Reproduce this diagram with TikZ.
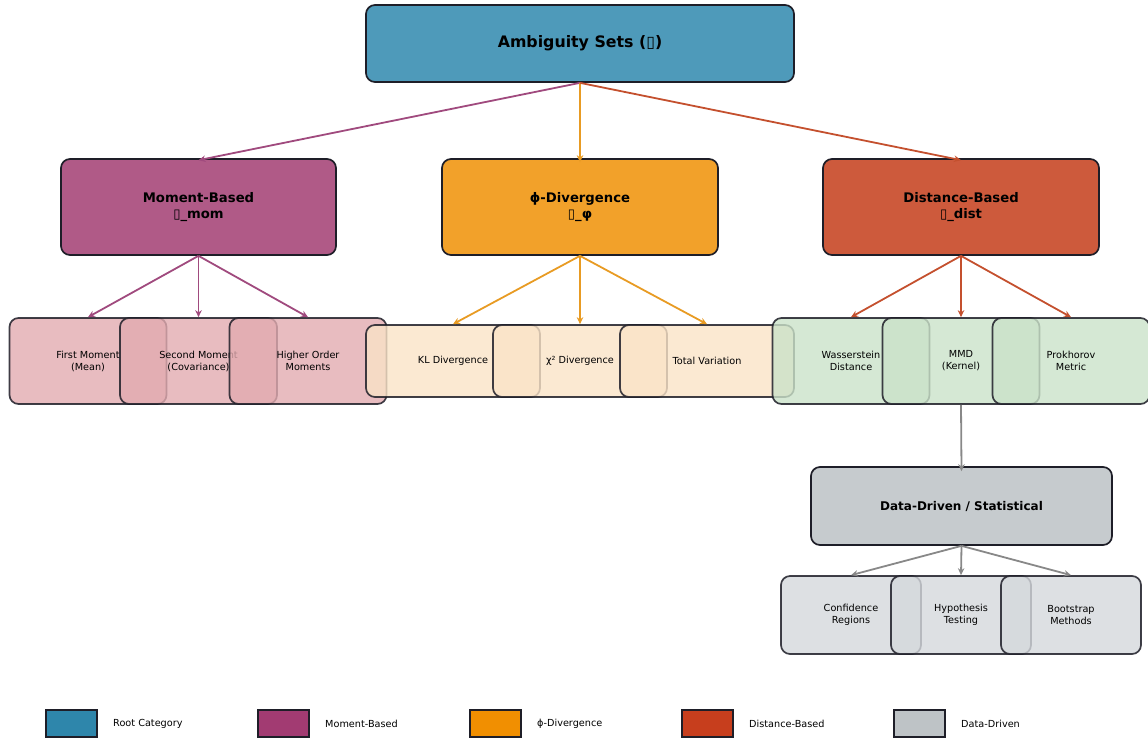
\documentclass[tikz,border=0pt]{standalone}
\usepackage{fontspec}
\setmainfont{DejaVu Sans}
\usetikzlibrary{arrows.meta}
\definecolor{rootc}{RGB}{78,154,186}
\definecolor{momc}{RGB}{176,90,135}
\definecolor{phic}{RGB}{242,161,42}
\definecolor{distc}{RGB}{205,90,60}
\definecolor{ddc}{RGB}{198,203,206}
\definecolor{momleaf}{RGB}{226,171,176}
\definecolor{phileaf}{RGB}{250,227,199}
\definecolor{distleaf}{RGB}{202,226,201}
\definecolor{ddleaf}{RGB}{212,216,220}
\definecolor{edgemom}{RGB}{160,74,126}
\definecolor{edgephi}{RGB}{232,155,35}
\definecolor{edgedist}{RGB}{196,80,46}
\definecolor{edgedd}{RGB}{136,136,136}
\definecolor{bord}{RGB}{30,30,40}
\definecolor{legroot}{RGB}{46,134,171}
\definecolor{legmom}{RGB}{162,59,114}
\definecolor{legphi}{RGB}{241,143,1}
\definecolor{legdist}{RGB}{199,62,29}
\definecolor{legdd}{RGB}{190,195,198}
\tikzset{
  catbox/.style={draw=bord, line width=1.7pt, rounded corners=9pt, align=center, inner sep=0pt, font=\fontsize{13.2}{16}\selectfont\bfseries},
  leafbox/.style={draw=bord, draw opacity=0.85, line width=1.7pt, rounded corners=9pt, align=center, inner sep=0pt, fill opacity=0.8, text opacity=1, font=\fontsize{9.7}{12}\selectfont},
  conn/.style={line width=1.8pt, -{Stealth[length=7pt,width=6.5pt]}},
  legsw/.style={draw=bord, line width=1.2pt, minimum width=51pt, minimum height=27pt, inner sep=0pt},
  legtx/.style={anchor=west, font=\fontsize{9.7}{12}\selectfont, inner sep=0pt}
}
\newcommand{\tofu}{▯}
\begin{document}
\begin{tikzpicture}[x=1pt,y=-1pt]
\useasboundingbox (0,0) rectangle (1148,740);
% root
\node[catbox, fill=rootc, minimum width=428pt, minimum height=77pt, font=\fontsize{15.8}{18}\selectfont\bfseries] (root) at (580,43.5) {Ambiguity Sets (\tofu)};
% categories
\node[catbox, fill=momc, minimum width=275pt, minimum height=96pt] (mom) at (198.5,207) {Moment-Based\\\tofu\_mom};
\node[catbox, fill=phic, minimum width=276pt, minimum height=96pt] (phi) at (580,207) {ϕ-Divergence\\\tofu\_φ};
\node[catbox, fill=distc, minimum width=276pt, minimum height=96pt] (dist) at (961,207) {Distance-Based\\\tofu\_dist};
% moment leaves
\node[leafbox, fill=momleaf, minimum width=157pt, minimum height=86pt] (m1) at (88,361) {First Moment\\(Mean)};
\node[leafbox, fill=momleaf, minimum width=157pt, minimum height=86pt] (m2) at (198.5,361) {Second Moment\\(Covariance)};
\node[leafbox, fill=momleaf, minimum width=157pt, minimum height=86pt] (m3) at (308,361) {Higher Order\\Moments};
% phi leaves
\node[leafbox, fill=phileaf, minimum width=174pt, minimum height=72pt] (p1) at (453,361) {KL Divergence};
\node[leafbox, fill=phileaf, minimum width=174pt, minimum height=72pt] (p2) at (580,361) {χ² Divergence};
\node[leafbox, fill=phileaf, minimum width=174pt, minimum height=72pt] (p3) at (707,361) {Total Variation};
% distance leaves
\node[leafbox, fill=distleaf, minimum width=157pt, minimum height=86pt] (d1) at (851,361) {Wasserstein\\Distance};
\node[leafbox, fill=distleaf, minimum width=157pt, minimum height=86pt] (d2) at (961,361) {MMD\\(Kernel)};
\node[leafbox, fill=distleaf, minimum width=157pt, minimum height=86pt] (d3) at (1071,361) {Prokhorov\\Metric};
% data driven
\node[catbox, fill=ddc, minimum width=301pt, minimum height=78pt, font=\fontsize{12}{14}\selectfont\bfseries] (dd) at (961.5,506) {Data-Driven / Statistical};
\node[leafbox, fill=ddleaf, minimum width=140pt, minimum height=78pt] (s1) at (851,615) {Confidence\\Regions};
\node[leafbox, fill=ddleaf, minimum width=140pt, minimum height=78pt] (s2) at (961,615) {Hypothesis\\Testing};
\node[leafbox, fill=ddleaf, minimum width=140pt, minimum height=78pt] (s3) at (1071,615) {Bootstrap\\Methods};
% connectors
\draw[conn, edgemom] (root.south) -- ([yshift=-2pt]mom.north);
\draw[conn, edgephi] (root.south) -- ([yshift=-4pt]phi.north);
\draw[conn, edgedist] (root.south) -- ([yshift=-2pt]dist.north);
\foreach \c in {m1,m2,m3} \draw[conn, edgemom] (mom.south) -- (\c.north);
\foreach \c in {p1,p2,p3} \draw[conn, edgephi] (phi.south) -- (\c.north);
\foreach \c in {d1,d2,d3} \draw[conn, edgedist] (dist.south) -- (\c.north);
\draw[conn, edgedd] (d2.south) -- ([yshift=-5pt]dd.north);
\foreach \c in {s1,s2,s3} \draw[conn, edgedd] (dd.south) -- (\c.north);
% legend
\node[legsw, fill=legroot] (l1) at (71.5,723.5) {};
\node[legtx] (t1) at (113,723.5) {Root Category};
\node[legsw, fill=legmom] (l2) at (283.5,723.5) {};
\node[legtx] (t2) at (325,723.5) {Moment-Based};
\node[legsw, fill=legphi] (l3) at (495.5,723.5) {};
\node[legtx] (t3) at (537,723.5) {ϕ-Divergence};
\node[legsw, fill=legdist] (l4) at (707.5,723.5) {};
\node[legtx] (t4) at (749,723.5) {Distance-Based};
\node[legsw, fill=legdd] (l5) at (919.5,723.5) {};
\node[legtx] (t5) at (961,723.5) {Data-Driven};
\end{tikzpicture}
\end{document}
